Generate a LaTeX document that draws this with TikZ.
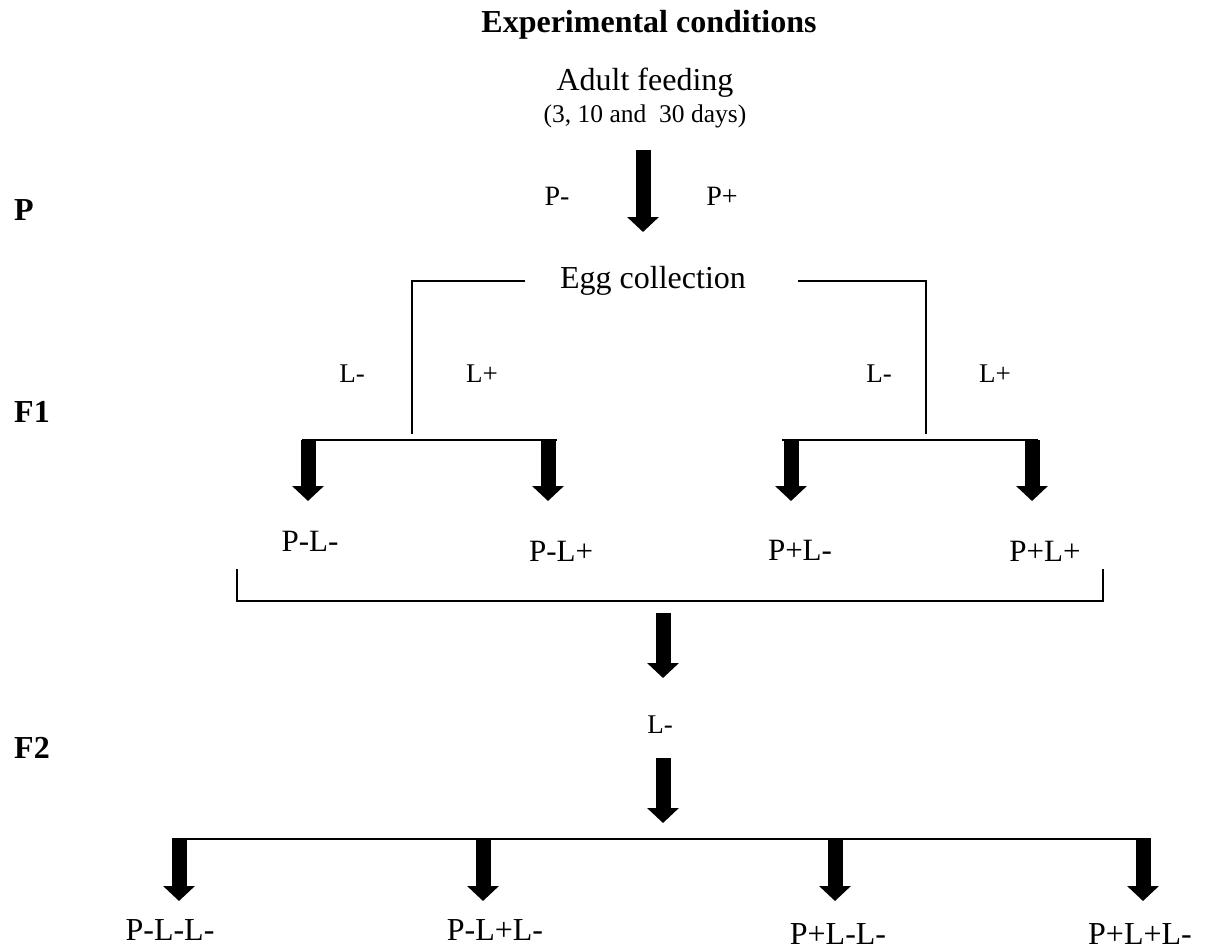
\documentclass[tikz,border=0pt]{standalone}
\usepackage{fontspec}
\setmainfont{Liberation Serif}
\usetikzlibrary{arrows.meta}
\begin{document}
\begin{tikzpicture}[x=1pt,y=-1pt,
  lbl/.style={inner sep=0pt,anchor=base,font=\fontsize{31}{34}\selectfont},
  small/.style={inner sep=0pt,anchor=base,font=\fontsize{27}{30}\selectfont},
  gen/.style={inner sep=0pt,anchor=base west,font=\bfseries\fontsize{32}{36}\selectfont},
  thin/.style={line width=2pt},
  bigarrow/.style={line width=15pt,-{Triangle[width=31pt,length=15pt]}}]
\useasboundingbox (0,0) rectangle (1209,952);
% titles
\node[lbl,font=\bfseries\fontsize{32}{36}\selectfont] (title) at (649,33) {Experimental conditions};
\node[lbl,font=\fontsize{32}{36}\selectfont] (adult) at (645,91) {Adult feeding};
\node[small,font=\fontsize{25.5}{30}\selectfont] (days) at (645,123) {(3, 10 and\ \ 30 days)};
\node[gen] (gP) at (14,220) {P};
\node[gen] (gF1) at (14,422) {F1};
\node[gen] (gF2) at (14,758) {F2};
% P stage
\coordinate (a1s) at (643,150);
\coordinate (a1e) at (643,232);
\draw[bigarrow] (a1s) -- (a1e);
\node[small,font=\fontsize{28}{30}\selectfont] (pm) at (557,205) {P-};
\node[small,font=\fontsize{28}{30}\selectfont] (pp) at (722,205) {P+};
\node[lbl,font=\fontsize{32}{36}\selectfont] (egg) at (653,288) {Egg collection};
% left branch
\coordinate (lh1) at (525,281);
\coordinate (lc) at (412,281);
\coordinate (lv) at (412,434);
\draw[thin] (lh1) -- (lc) -- (lv);
\coordinate (lb1) at (302,440);
\coordinate (lb2) at (557,440);
\draw[thin] (lb1) -- (lb2);
\node[small] (lLm) at (352,382) {L-};
\node[small] (lLp) at (482,382) {L+};
\coordinate (a2s) at (308,440);
\coordinate (a2e) at (308,501);
\coordinate (a3s) at (548,440);
\coordinate (a3e) at (548,501);
\draw[bigarrow] (a2s) -- (a2e);
\draw[bigarrow] (a3s) -- (a3e);
\node[lbl] (PmLm) at (310,551) {P-L-};
\node[lbl] (PmLp) at (561,561) {P-L+};
% right branch
\coordinate (rh1) at (798,281);
\coordinate (rc) at (926,281);
\coordinate (rv) at (926,434);
\draw[thin] (rh1) -- (rc) -- (rv);
\coordinate (rb1) at (782,440);
\coordinate (rb2) at (1038,440);
\draw[thin] (rb1) -- (rb2);
\node[small] (rLm) at (879,382) {L-};
\node[small] (rLp) at (995,382) {L+};
\coordinate (a4s) at (791,440);
\coordinate (a4e) at (791,501);
\coordinate (a5s) at (1032,440);
\coordinate (a5e) at (1032,501);
\draw[bigarrow] (a4s) -- (a4e);
\draw[bigarrow] (a5s) -- (a5e);
\node[lbl] (PpLm) at (800,560) {P+L-};
\node[lbl] (PpLp) at (1045,561) {P+L+};
% big bracket
\coordinate (bk1) at (237,569);
\coordinate (bk2) at (237,601);
\coordinate (bk3) at (1103,601);
\coordinate (bk4) at (1103,569);
\draw[thin] (bk1) -- (bk2) -- (bk3) -- (bk4);
% F2
\coordinate (a6s) at (663,613);
\coordinate (a6e) at (663,678);
\draw[bigarrow] (a6s) -- (a6e);
\node[small] (Lm2) at (660,733) {L-};
\coordinate (a7s) at (663,758);
\coordinate (a7e) at (663,823);
\draw[bigarrow] (a7s) -- (a7e);
\coordinate (fb1) at (179,839);
\coordinate (fb2) at (1143,839);
\draw[thin] (fb1) -- (fb2);
\foreach \x/\n in {179/b1,483/b2,835/b3,1143/b4}{
  \coordinate (\n s) at (\x,838);
  \coordinate (\n e) at (\x,901);
  \draw[bigarrow] (\n s) -- (\n e);
}
\node[lbl,font=\fontsize{32}{36}\selectfont] (f1) at (170,940) {P-L-L-};
\node[lbl,font=\fontsize{32}{36}\selectfont] (f2) at (495,940) {P-L+L-};
\node[lbl,font=\fontsize{32}{36}\selectfont] (f3) at (838,944) {P+L-L-};
\node[lbl,font=\fontsize{32}{36}\selectfont] (f4) at (1140,944) {P+L+L-};
\end{tikzpicture}
\end{document}
